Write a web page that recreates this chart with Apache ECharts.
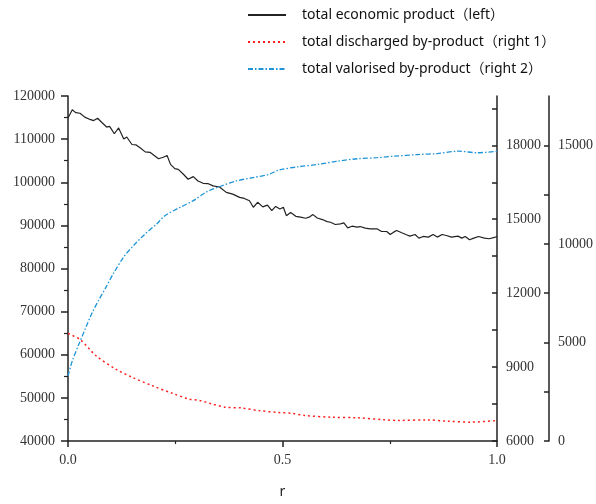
<!DOCTYPE html>
<html>
<head>
<meta charset="utf-8">
<script src="https://cdn.jsdelivr.net/npm/echarts@6/dist/echarts.min.js"></script>
<style>
  html, body { margin: 0; padding: 0; background: #fff; }
  #chart { width: 596px; height: 504px; }
</style>
</head>
<body>
<div id="chart"></div>
<script>
// legend names
const names = [
  'total economic product（left）',
  'total discharged by-product（right 1）',
  'total valorised by-product（right 2）'
];

// total economic product, left axis  [r, value]
const economic = [
  [0, 114900], [0.010, 116800], [0.018, 116150], [0.028, 116000], [0.039, 115100],
  [0.049, 114650], [0.060, 114300], [0.069, 114850], [0.079, 113850], [0.090, 112800],
  [0.097, 112950], [0.108, 111250], [0.118, 112600], [0.130, 110050], [0.137, 110500],
  [0.149, 108750], [0.159, 108650], [0.168, 108000], [0.180, 107050], [0.191, 106950],
  [0.211, 105450], [0.222, 105800], [0.231, 106200], [0.239, 104150], [0.249, 103150],
  [0.257, 103000], [0.269, 101850], [0.280, 100700], [0.292, 101300], [0.303, 100300],
  [0.315, 99750], [0.326, 99700], [0.338, 99150], [0.353, 98900], [0.369, 97650],
  [0.384, 97250], [0.400, 96500], [0.411, 96250], [0.423, 95700], [0.432, 94200],
  [0.442, 95350], [0.454, 94300], [0.465, 94700], [0.475, 93400], [0.484, 94400],
  [0.494, 93800], [0.502, 94200], [0.509, 92250], [0.519, 93000], [0.531, 92100],
  [0.542, 91900], [0.554, 91650], [0.562, 91900], [0.571, 92500], [0.581, 91700],
  [0.593, 91350], [0.604, 90880], [0.612, 90720], [0.623, 90200], [0.635, 90350],
  [0.643, 90580], [0.652, 89430], [0.662, 89810], [0.674, 89580], [0.681, 89730],
  [0.693, 89350], [0.704, 89200], [0.720, 89200], [0.731, 88580], [0.743, 88580],
  [0.751, 87890], [0.759, 88430], [0.766, 88810], [0.778, 88280], [0.789, 87820],
  [0.797, 87510], [0.809, 87890], [0.818, 87050], [0.828, 87430], [0.840, 87280],
  [0.851, 87890], [0.861, 87280], [0.872, 87890], [0.882, 87660], [0.894, 87280],
  [0.909, 87510], [0.918, 87050], [0.926, 87430], [0.936, 86670], [0.946, 87050],
  [0.957, 87430], [0.971, 87050], [0.982, 86900], [0.994, 87200], [1.0, 87430]
];

// total discharged by-product, right axis 1
const discharged = [
  [0, 10360], [0.028, 10120], [0.066, 9450], [0.112, 8910], [0.151, 8575],
  [0.197, 8240], [0.244, 7930], [0.282, 7700], [0.306, 7650], [0.336, 7500],
  [0.367, 7370], [0.406, 7340], [0.444, 7235], [0.491, 7155], [0.521, 7125],
  [0.552, 7035], [0.614, 6965], [0.676, 6940], [0.738, 6860], [0.769, 6835],
  [0.838, 6855], [0.884, 6805], [0.938, 6765], [1.0, 6830]
];

// total valorised by-product, right axis 2
const valorised = [
  [0, 3300], [0.010, 4060], [0.025, 4890], [0.041, 5730], [0.056, 6490],
  [0.072, 7160], [0.087, 7740], [0.106, 8500], [0.130, 9340], [0.153, 9920],
  [0.180, 10510], [0.207, 11010], [0.226, 11430], [0.261, 11850], [0.292, 12190],
  [0.323, 12640], [0.354, 12910], [0.392, 13190], [0.431, 13360], [0.469, 13530],
  [0.491, 13740], [0.537, 13910], [0.583, 14030], [0.630, 14200], [0.676, 14320],
  [0.722, 14370], [0.761, 14450], [0.815, 14530], [0.861, 14580], [0.911, 14700],
  [0.954, 14620], [1.0, 14700]
];

const axisColor = '#222';
const labelFont = {
  fontFamily: 'Liberation Serif',
  fontSize: 14,
  color: '#333'
};

let myChart = echarts.init(document.getElementById('chart'), null, { renderer: 'canvas' });

let option = {
  animation: false,
  backgroundColor: '#fff',
  grid: {
    left: 68,
    right: 96,
    top: 96,
    bottom: 60
  },
  legend: {
    orient: 'vertical',
    left: 247,
    top: 8,
    padding: 0,
    itemWidth: 38,
    itemHeight: 14,
    itemGap: 13,
    itemStyle: { opacity: 0 },
    textStyle: {
      fontFamily: "'Noto Sans', 'Noto Sans CJK SC'",
      fontSize: 14,
      color: '#111',
      padding: [0, 0, 0, 11]
    },
    data: names
  },
  xAxis: {
    type: 'value',
    min: 0,
    max: 1,
    interval: 0.5,
    name: 'r',
    nameLocation: 'middle',
    nameGap: 44,
    nameTextStyle: {
      fontFamily: 'Noto Sans',
      fontSize: 14,
      color: '#222'
    },
    axisLine: { show: true, lineStyle: { color: axisColor, width: 1.5 } },
    axisTick: { show: true, length: 6, lineStyle: { color: axisColor, width: 1.5 } },
    minorTick: { show: true, splitNumber: 2, length: 3, lineStyle: { color: axisColor, width: 1.2 } },
    axisLabel: Object.assign({
      margin: 12,
      formatter(value) {
        return value.toFixed(1);
      }
    }, labelFont),
    splitLine: { show: false }
  },
  yAxis: [
    {
      type: 'value',
      position: 'left',
      min: 40000,
      max: 120000,
      interval: 10000,
      axisLine: { show: true, lineStyle: { color: axisColor, width: 1.5 } },
      axisTick: { show: true, length: 7, lineStyle: { color: axisColor, width: 1.5 } },
      minorTick: { show: true, splitNumber: 2, length: 4, lineStyle: { color: axisColor, width: 1.2 } },
      axisLabel: Object.assign({
        margin: 13,
        formatter(value) {
          return String(value);
        }
      }, labelFont),
      splitLine: { show: false }
    },
    {
      type: 'value',
      position: 'right',
      min: 6000,
      max: 20000,
      interval: 1500,
      axisLine: { show: true, lineStyle: { color: axisColor, width: 1.5 } },
      axisTick: { show: true, inside: true, length: 5, lineStyle: { color: axisColor, width: 1.5 } },
      axisLabel: Object.assign({
        margin: 9,
        showMaxLabel: false,
        formatter(value) {
          return value % 3000 === 0 ? String(value) : '';
        }
      }, labelFont),
      splitLine: { show: false }
    },
    {
      type: 'value',
      position: 'right',
      offset: 52,
      min: 0,
      max: 17500,
      interval: 2500,
      axisLine: { show: true, lineStyle: { color: axisColor, width: 1.5 } },
      axisTick: { show: true, inside: true, length: 5, lineStyle: { color: axisColor, width: 1.5 } },
      axisLabel: Object.assign({
        margin: 9,
        showMaxLabel: false,
        formatter(value) {
          return value % 5000 === 0 ? String(value) : '';
        }
      }, labelFont),
      splitLine: { show: false }
    }
  ],
  series: [
    {
      name: names[0],
      type: 'line',
      yAxisIndex: 0,
      symbol: 'none',
      lineStyle: { color: '#222', width: 1.2 },
      itemStyle: { color: '#222' },
      data: economic
    },
    {
      name: names[1],
      type: 'line',
      yAxisIndex: 1,
      symbol: 'none',
      smooth: 0.3,
      lineStyle: { color: '#ff2020', width: 1.5, type: [2, 3] },
      itemStyle: { color: '#ff2020' },
      data: discharged
    },
    {
      name: names[2],
      type: 'line',
      yAxisIndex: 2,
      symbol: 'none',
      smooth: 0.3,
      lineStyle: { color: '#1f95d8', width: 1.3, type: [5, 2, 1.5, 2] },
      itemStyle: { color: '#1f95d8' },
      data: valorised
    }
  ]
};

myChart.setOption(option, true);

window.addEventListener('resize', () => {
  myChart.resize();
});
</script>
</body>
</html>
